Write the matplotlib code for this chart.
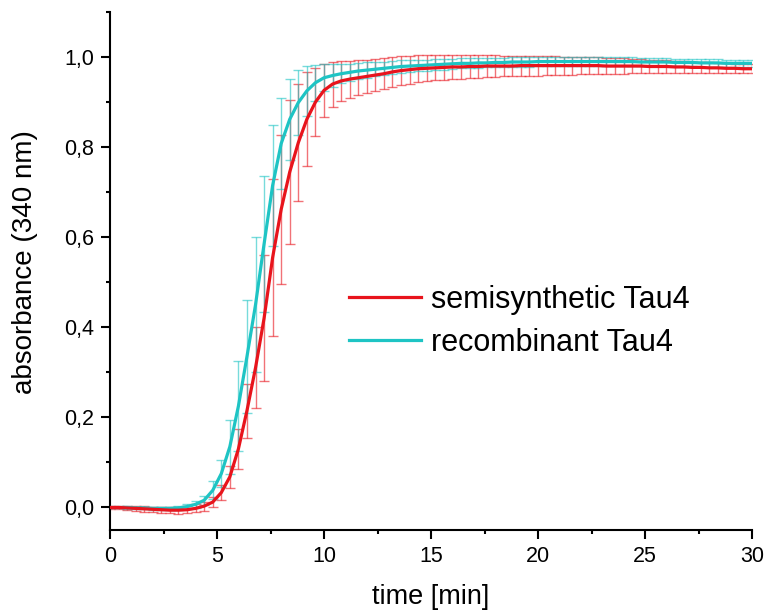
import matplotlib
matplotlib.use("Agg")
import matplotlib.pyplot as plt
from matplotlib.ticker import MultipleLocator, FuncFormatter

plt.rcParams['font.family'] = ['Liberation Sans', 'DejaVu Sans']

# time points (min)
time = [0.0, 0.4, 0.8, 1.2, 1.6, 2.0, 2.4, 2.8, 3.2, 3.6,
        4.0, 4.4, 4.8, 5.2, 5.6, 6.0, 6.4, 6.8, 7.2, 7.6,
        8.0, 8.4, 8.8, 9.2, 9.6, 10.0, 10.4, 10.8, 11.2, 11.6,
        12.0, 12.4, 12.8, 13.2, 13.6, 14.0, 14.4, 14.8, 15.2, 15.6,
        16.0, 16.4, 16.8, 17.2, 17.6, 18.0, 18.4, 18.8, 19.2, 19.6,
        20.0, 20.4, 20.8, 21.2, 21.6, 22.0, 22.4, 22.8, 23.2, 23.6,
        24.0, 24.4, 24.8, 25.2, 25.6, 26.0, 26.4, 26.8, 27.2, 27.6,
        28.0, 28.4, 28.8, 29.2, 29.6, 30.0]

# semisynthetic Tau4 (mean, sd)
semi_mean = [0.000, 0.000, -0.001, -0.002, -0.003, -0.004, -0.005, -0.006, -0.006, -0.005,
             -0.002, 0.003, 0.012, 0.033, 0.068, 0.130, 0.215, 0.310, 0.420, 0.555,
             0.662, 0.745, 0.810, 0.862, 0.900, 0.926, 0.940, 0.947, 0.951, 0.954,
             0.957, 0.960, 0.963, 0.967, 0.970, 0.972, 0.974, 0.975, 0.976, 0.977,
             0.978, 0.978, 0.979, 0.979, 0.980, 0.980, 0.980, 0.980, 0.981, 0.981,
             0.981, 0.981, 0.981, 0.981, 0.981, 0.981, 0.981, 0.981, 0.980, 0.980,
             0.980, 0.980, 0.980, 0.979, 0.979, 0.979, 0.978, 0.978, 0.977, 0.977,
             0.976, 0.976, 0.975, 0.975, 0.974, 0.974]
semi_sd = [0.003, 0.004, 0.005, 0.005, 0.006, 0.006, 0.007, 0.007, 0.008, 0.008,
           0.009, 0.010, 0.012, 0.016, 0.025, 0.045, 0.060, 0.090, 0.140, 0.175,
           0.165, 0.160, 0.130, 0.105, 0.075, 0.058, 0.050, 0.044, 0.041, 0.039,
           0.037, 0.035, 0.034, 0.033, 0.032, 0.031, 0.030, 0.029, 0.028, 0.027,
           0.026, 0.026, 0.025, 0.025, 0.024, 0.024, 0.023, 0.023, 0.022, 0.022,
           0.022, 0.021, 0.021, 0.020, 0.020, 0.019, 0.019, 0.018, 0.018, 0.017,
           0.017, 0.016, 0.016, 0.015, 0.015, 0.014, 0.014, 0.013, 0.013, 0.012,
           0.012, 0.011, 0.011, 0.010, 0.010, 0.010]

# recombinant Tau4 (mean, sd)
reco_mean = [0.000, 0.000, 0.000, -0.001, -0.001, -0.002, -0.002, -0.002, -0.001, 0.002,
             0.007, 0.016, 0.038, 0.075, 0.135, 0.225, 0.335, 0.450, 0.585, 0.715,
             0.808, 0.862, 0.899, 0.925, 0.943, 0.954, 0.959, 0.963, 0.966, 0.969,
             0.971, 0.973, 0.975, 0.977, 0.979, 0.980, 0.981, 0.982, 0.983, 0.984,
             0.985, 0.986, 0.986, 0.987, 0.987, 0.988, 0.988, 0.989, 0.989, 0.989,
             0.990, 0.990, 0.990, 0.990, 0.990, 0.990, 0.990, 0.990, 0.990, 0.990,
             0.990, 0.990, 0.989, 0.989, 0.989, 0.989, 0.988, 0.988, 0.988, 0.987,
             0.987, 0.987, 0.986, 0.986, 0.986, 0.986]
reco_sd = [0.002, 0.002, 0.003, 0.003, 0.003, 0.004, 0.004, 0.004, 0.005, 0.006,
           0.008, 0.010, 0.020, 0.030, 0.060, 0.100, 0.125, 0.150, 0.150, 0.135,
           0.100, 0.090, 0.072, 0.055, 0.040, 0.030, 0.025, 0.021, 0.019, 0.018,
           0.017, 0.016, 0.015, 0.014, 0.014, 0.013, 0.013, 0.012, 0.012, 0.012,
           0.011, 0.011, 0.011, 0.011, 0.010, 0.010, 0.010, 0.010, 0.010, 0.010,
           0.010, 0.010, 0.010, 0.010, 0.009, 0.009, 0.009, 0.009, 0.009, 0.009,
           0.009, 0.009, 0.009, 0.008, 0.008, 0.008, 0.008, 0.008, 0.008, 0.008,
           0.008, 0.008, 0.008, 0.008, 0.008, 0.008]

series_labels = ["semisynthetic Tau4", "recombinant Tau4"]

red = "#e8141c"
cyan = "#1ec4c4"

fig = plt.figure(figsize=(7.67, 6.15), dpi=100)
ax = fig.add_axes([110 / 767, 85 / 615, 642 / 767, 518 / 615])

# error bars first, lines on top
ax.errorbar(time, semi_mean, yerr=semi_sd, fmt="none", ecolor=red, alpha=0.6,
            elinewidth=1.0, capsize=3.8, capthick=1.0, zorder=2)
ax.errorbar(time, reco_mean, yerr=reco_sd, fmt="none", ecolor=cyan, alpha=0.6,
            elinewidth=1.0, capsize=3.8, capthick=1.0, zorder=2)
ax.plot(time, reco_mean, color=cyan, lw=2.3, zorder=3)
ax.plot(time, semi_mean, color=red, lw=2.3, zorder=4)

# legend handles
h_semi, = ax.plot([], [], color=red, lw=2.3, label=series_labels[0])
h_reco, = ax.plot([], [], color=cyan, lw=2.3, label=series_labels[1])
ax.legend(handles=[h_semi, h_reco], frameon=False, fontsize=22,
          handlelength=2.35, handletextpad=0.33, labelspacing=0.42,
          loc="upper left", bbox_to_anchor=(349 / 767, 1 - 285 / 615),
          bbox_transform=fig.transFigure, borderpad=0, borderaxespad=0)

ax.set_xlim(0, 30)
ax.set_ylim(-0.05, 1.1)
ax.xaxis.set_major_locator(MultipleLocator(5))
ax.xaxis.set_minor_locator(MultipleLocator(2.5))
ax.yaxis.set_major_locator(MultipleLocator(0.2))
ax.yaxis.set_minor_locator(MultipleLocator(0.1))
ax.yaxis.set_major_formatter(FuncFormatter(lambda v, p: f"{v:.1f}".replace(".", ",")))

for side in ["top", "right"]:
    ax.spines[side].set_visible(False)
for side in ["left", "bottom"]:
    ax.spines[side].set_linewidth(1.5)

ax.tick_params(which="major", direction="out", length=6.5, width=1.5,
               labelsize=15.5, pad=5)
ax.tick_params(which="minor", direction="out", length=3, width=1.5)

ax.set_xlabel("time [min]", fontsize=19.5, labelpad=12)
ax.set_ylabel("absorbance (340 nm)", fontsize=20)
ax.yaxis.set_label_coords(-0.112, 0.517)

fig.savefig("out.png", dpi=100)
